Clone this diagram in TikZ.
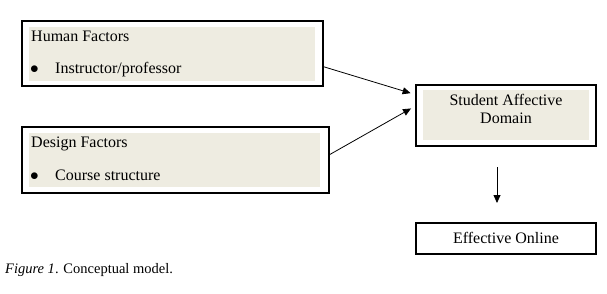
\documentclass[tikz,border=0pt]{standalone}
\usepackage{fontspec}
\setmainfont{Liberation Serif}
\usepackage{xcolor}
\definecolor{boxShade}{HTML}{EEECE1}
\usetikzlibrary{arrows.meta}

\tikzset{
  outerbox/.style={draw, line width=1.2pt, fill=white, inner sep=0pt},
  shadebox/.style={fill=boxShade, draw=none, inner sep=0pt},
  label/.style={anchor=base west, inner sep=0pt, font=\fontsize{16}{19}\selectfont},
  centerlabel/.style={anchor=base, inner sep=0pt, font=\fontsize{16}{19}\selectfont},
  link/.style={line width=0.8pt, -{Triangle[length=8pt,width=7pt]}}
}

\begin{document}
\begin{tikzpicture}[x=1pt, y=-1pt]
  \useasboundingbox (0,0) rectangle (607,293);
  % left boxes
  \node[outerbox, minimum width=301pt, minimum height=65pt] (hfbox) at (172.5,53.5) {};
  \node[shadebox, minimum width=286pt, minimum height=54pt] (hfshade) at (172,54) {};
  \node[label] (hftitle) at (31,41) {Human Factors};
  \node[label] (hfdot) at (30,73) {$\bullet$};
  \node[label] (hfitem) at (55,73) {Instructor/professor};

  \node[outerbox, minimum width=307pt, minimum height=66pt] (dsbox) at (175.5,160) {};
  \node[shadebox, minimum width=291pt, minimum height=54pt] (dsshade) at (174.5,160) {};
  \node[label] (dstitle) at (31,147) {Design Factors};
  \node[label] (dsdot) at (30,180) {$\bullet$};
  \node[label] (dsitem) at (55,180) {Course structure};

  % right boxes
  \node[outerbox, minimum width=180pt, minimum height=61pt] (sabox) at (506,115.5) {};
  \node[shadebox, minimum width=166pt, minimum height=50pt] (sashade) at (506,115) {};
  \node[centerlabel] (saline1) at (506,105) {Student Affective};
  \node[centerlabel] (saline2) at (506,123) {Domain};

  \node[outerbox, minimum width=180pt, minimum height=31pt] (eobox) at (506,238.5) {};
  \node[centerlabel] (eotext) at (506,243) {Effective Online};

  % arrows
  \draw[link, shorten >=5pt] (hfbox.-5.5) -- (sabox.167.2);
  \draw[link, shorten >=5pt] (dsbox.2.6) -- (sabox.174);
  \coordinate (downtop) at (497,167);
  \coordinate (downend) at (497,203);
  \draw[link] (downtop) -- (downend);

  % caption
  \node[anchor=base west, inner sep=0pt, font=\fontsize{14.5}{17}\selectfont] (caption) at (5,273) {\textit{Figure 1}. Conceptual model.};
\end{tikzpicture}
\end{document}
